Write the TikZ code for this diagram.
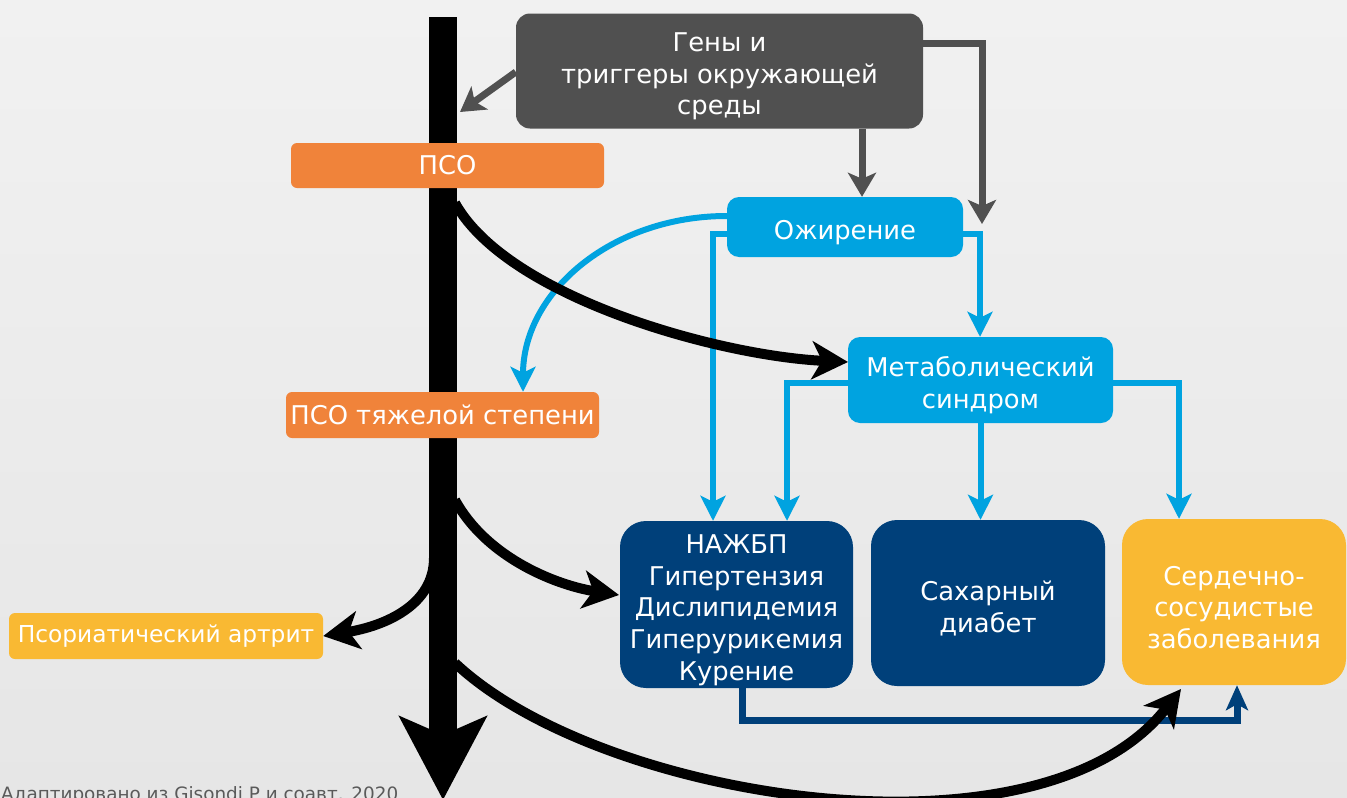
\documentclass[tikz,border=0pt]{standalone}
\usepackage{fontspec}
\setmainfont{DejaVu Sans}
\usetikzlibrary{arrows.meta}
\definecolor{bgA}{HTML}{F1F1F1}
\definecolor{bgB}{HTML}{E6E6E6}
\definecolor{cgray}{HTML}{505050}
\definecolor{corange}{HTML}{F0833A}
\definecolor{ccyan}{HTML}{00A3E0}
\definecolor{cnavy}{HTML}{00407A}
\definecolor{cyellow}{HTML}{F9B933}
\definecolor{footgray}{HTML}{5A5A5A}
\newcommand{\mytopstrut}{\rule{0pt}{30pt}}
\pgfdeclarelayer{bglayer}
\pgfdeclarelayer{lines}
\pgfsetlayers{bglayer,lines,main}
\begin{document}
\begin{tikzpicture}[x=1pt,y=-1pt,
  boxbase/.style={text=white, align=center, inner sep=0pt, font=\fontsize{25.8}{31.6}\selectfont},
  gbox/.style={boxbase, fill=cgray, rounded corners=14pt},
  obox/.style={boxbase, fill=corange, rounded corners=6pt},
  cbox/.style={boxbase, fill=ccyan, rounded corners=12pt},
  nbox/.style={boxbase, fill=cnavy, rounded corners=26pt},
  ybox/.style={boxbase, fill=cyellow, rounded corners=26pt},
  yboxs/.style={boxbase, fill=cyellow, rounded corners=6pt, font=\fontsize{23.3}{28}\selectfont},
  grayline/.style={draw=cgray, line width=7pt, -{Stealth[length=24pt,width=28pt,inset=6pt]}},
  cyanline/.style={draw=ccyan, line width=6pt, -{Stealth[length=25pt,width=25pt,inset=6pt]}},
  navyline/.style={draw=cnavy, line width=7pt, -{Stealth[length=25pt,width=22pt,inset=6pt]}},
  blackline/.style={draw=black, line width=10pt, -{Stealth[length=36pt,width=38pt,inset=10pt]}},
  barline/.style={draw=black, line width=28pt, -{Stealth[length=83pt,width=86pt,inset=18pt]}},
]
\useasboundingbox (0,0) rectangle (1347,798);
\begin{pgfonlayer}{bglayer}
  \shade[top color=bgA, bottom color=bgB] (0,0) rectangle (1347,798);
\end{pgfonlayer}

% boxes
\node[gbox, minimum width=407pt, minimum height=115pt] (genes) at (719.5,71) {\mytopstrut Гены и\\триггеры окружающей\\среды};
\node[obox, minimum width=313pt, minimum height=45pt] (pso) at (447.5,165.5) {ПСО};
\node[obox, minimum width=313pt, minimum height=46pt] (psosev) at (442.5,415) {ПСО тяжелой степени};
\node[cbox, minimum width=236pt, minimum height=60pt] (obes) at (845,227) {\mytopstrut Ожирение};
\node[cbox, minimum width=265pt, minimum height=86pt] (metab) at (980.5,380) {\mytopstrut Метаболический\\синдром};
\node[nbox, minimum width=233pt, minimum height=167pt] (nafld) at (736.5,604.5) {\mytopstrut НАЖБП\\Гипертензия\\Дислипидемия\\Гиперурикемия\\Курение};
\node[nbox, minimum width=234pt, minimum height=166pt] (diab) at (988,603) {\mytopstrut Сахарный\\диабет};
\node[ybox, minimum width=224pt, minimum height=166pt] (cvd) at (1234,602) {\mytopstrut Сердечно-\\сосудистые\\заболевания};
\node[yboxs, minimum width=314pt, minimum height=46pt] (psa) at (166,636) {Псориатический артрит};
\node[anchor=base west, text=footgray, font=\fontsize{18.4}{22}\selectfont, inner sep=0pt] (src) at (1,800) {Адаптировано из Gisondi P и соавт. 2020};

% helper coordinates
\coordinate (yob) at (0,234);
\coordinate (yoc) at (0,216);
\coordinate (xa) at (713,0);
\coordinate (xb) at (980,0);
\coordinate (xc) at (787,0);
\coordinate (xd) at (1179,0);
\coordinate (ym) at (0,383);
\coordinate (xe) at (523,0);
\coordinate (xf) at (742,0);
\coordinate (xg) at (1237,0);
\coordinate (yn) at (0,720);
\coordinate (yg) at (0,72);
\coordinate (gbar) at (460,112);
\coordinate (xh) at (862,0);
\coordinate (yi) at (0,43);
\coordinate (xi) at (982,0);
\coordinate (gtip) at (982,224);
\coordinate (bartop) at (443,17);
\coordinate (barbot) at (443,800);
\coordinate (b1) at (455,203);
\coordinate (m1) at (848,362);
\coordinate (b2) at (455,500);
\coordinate (n1) at (619,595);
\coordinate (b3) at (434,558);
\coordinate (b4) at (455,663);
\coordinate (c1) at (1181,689);

\begin{pgfonlayer}{lines}
  % cyan connectors
  \draw[cyanline] (obes.west |- yob) -- (xa |- yob) -- (xa |- nafld.north);
  \draw[cyanline] (obes.east |- yob) -- (xb |- yob) -- (xb |- metab.north);
  \draw[cyanline, {Stealth[length=25pt,width=25pt,inset=6pt]}-{Stealth[length=25pt,width=25pt,inset=6pt]}]
     (xc |- nafld.north) -- (xc |- ym) -- (xd |- ym) -- (xd |- cvd.north);
  \draw[cyanline] (metab.south) -- (metab.south |- diab.north);
  \draw[cyanline] (obes.west |- yoc) .. controls (612,216) and (523,292) .. (xe |- psosev.north);
  % navy connector
  \draw[navyline] (xf |- nafld.south) -- (xf |- yn) -- (xg |- yn) -- (xg |- cvd.south);
  % gray connectors
  \draw[grayline] (genes.west |- yg) -- (gbar);
  \draw[grayline] (xh |- genes.south) -- (xh |- obes.north);
  \draw[grayline] (genes.east |- yi) -- (xi |- yi) -- (gtip);
  % main bar
  \draw[barline] (bartop) -- (barbot);
  % black curves
  \draw[blackline] (b1) .. controls (508,298) and (720,356) .. (m1);
  \draw[blackline] (b2) .. controls (488,560) and (560,586) .. (n1);
  \draw[blackline] (b3) .. controls (434,605) and (385,626) .. (psa.east);
  \draw[blackline] (b4) .. controls (600,800) and (1040,870) .. (c1);
\end{pgfonlayer}
\end{tikzpicture}
\end{document}
